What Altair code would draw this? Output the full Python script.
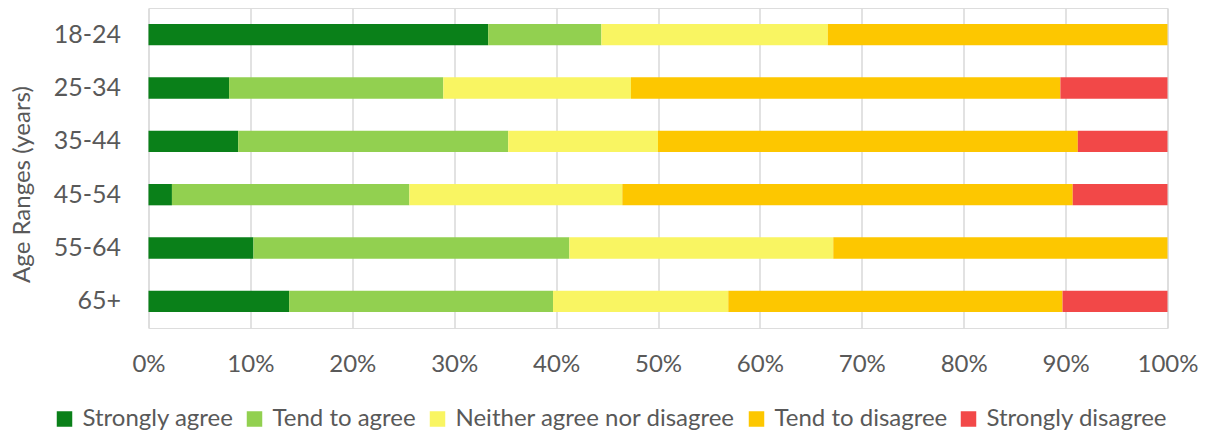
import altair as alt
import pandas as pd

ages = ["18-24", "25-34", "35-44", "45-54", "55-64", "65+"]
responses = ["Strongly agree", "Tend to agree", "Neither agree nor disagree",
             "Tend to disagree", "Strongly disagree"]
colors = ["#0A8019", "#92D050", "#F9F562", "#FDC700", "#F24848"]

strongly_agree = [33.3, 7.9, 8.8, 2.3, 10.3, 13.8]
tend_to_agree = [11.1, 21.0, 26.5, 23.3, 31.0, 25.9]
neither = [22.2, 18.4, 14.7, 20.9, 25.9, 17.2]
tend_to_disagree = [33.3, 42.1, 41.2, 44.2, 32.8, 32.8]
strongly_disagree = [0.0, 10.5, 8.8, 9.3, 0.0, 10.3]

series = [strongly_agree, tend_to_agree, neither, tend_to_disagree, strongly_disagree]
rows = []
for ri, (resp, vals) in enumerate(zip(responses, series)):
    for age, v in zip(ages, vals):
        rows.append({"age": age, "response": resp, "value": v, "order": ri})
df = pd.DataFrame(rows)

FONT = "Lato"
GREY = "#595959"

chart = alt.Chart(df).mark_bar().encode(
    y=alt.Y("age:N", sort=ages,
            scale=alt.Scale(paddingInner=0.6, paddingOuter=0.3),
            axis=alt.Axis(title="Age Ranges (years)", domain=False, ticks=False,
                          labelPadding=28, labelFontSize=25, labelColor=GREY,
                          labelFont=FONT, titleFont=FONT, titleFontSize=24,
                          titleFontWeight="normal", titleColor=GREY,
                          titleAngle=270, titleX=-126, titleY=176,
                          titleAlign="center", titleBaseline="middle")),
    x=alt.X("value:Q", stack="normalize",
            scale=alt.Scale(domain=[0, 1], nice=False),
            axis=alt.Axis(title=None, format=".0%",
                          values=[i / 10 for i in range(11)],
                          domain=False, ticks=False, grid=True,
                          gridColor="#D9D9D9", gridWidth=1.5,
                          labelFlush=False, labelOverlap=False,
                          labelPadding=24, labelFontSize=24, labelColor=GREY,
                          labelFont=FONT)),
    color=alt.Color("response:N",
                    scale=alt.Scale(domain=responses, range=colors),
                    legend=alt.Legend(title=None, orient="none", direction="horizontal",
                                      columns=5, legendX=-96, legendY=399,
                                      symbolType="square", symbolSize=240,
                                      symbolStrokeWidth=0, labelOffset=6,
                                      columnPadding=9, padding=0,
                                      labelFontSize=24, labelColor=GREY,
                                      labelFont=FONT, labelLimit=0)),
    order=alt.Order("order:Q", sort="ascending"),
).properties(
    width=1019, height=320,
    autosize=alt.AutoSizeParams(type="none"),
    padding={"left": 148.5, "top": 8, "right": 37.5, "bottom": 107},
).configure_view(stroke=None).configure(background="white")

chart.save("out.html", embed_options={"renderer": "svg", "actions": False})
